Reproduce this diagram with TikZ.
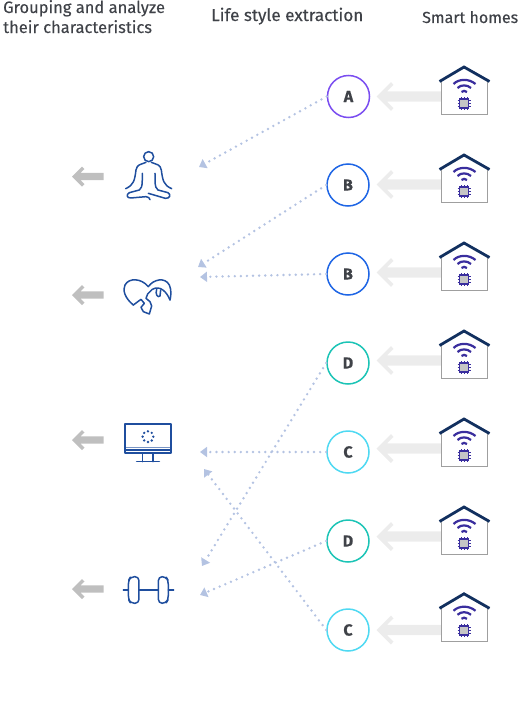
\documentclass[tikz,border=0pt]{standalone}
\usepackage{fontspec}
\setmainfont[FakeBold=0.25]{Fira Sans}
\usetikzlibrary{arrows.meta}
\definecolor{iconblue}{HTML}{1F4E9E}
\definecolor{roofnavy}{HTML}{12305F}
\definecolor{wifipurple}{HTML}{3A2E9E}
\definecolor{dotblue}{HTML}{B4C3E2}
\definecolor{textgray}{HTML}{3F4248}
\definecolor{circA}{HTML}{7A4DF0}
\definecolor{circB}{HTML}{1F66E5}
\definecolor{circD}{HTML}{1CC4B6}
\definecolor{circC}{HTML}{4FD9F2}
\tikzset{
    header/.style={font=\fontsize{16.5}{19}\selectfont,text=textgray,anchor=base west,inner sep=0pt,align=left},
    lifecirc/.style={circle,draw=#1,line width=1.5pt,fill=white,minimum size=42pt,inner sep=0pt,font=\fontsize{16}{16}\selectfont\bfseries,text=textgray},
    dotlink/.style={dotblue,line width=2.7pt,line cap=round,dash pattern=on 0pt off 6.1pt,-{Triangle[length=7pt,width=10pt]}},
    iconline/.style={iconblue,line width=1.5pt,line cap=round,line join=round},
}
\begin{document}
\begin{tikzpicture}[x=1pt,y=-1pt]
    \useasboundingbox (0,0) rectangle (531,712);
    % headers
    \node[header] (hgroup) at (3,13) {Grouping and analyze};
    \node[header] (hchar) at (3,33) {their characteristics};
    \node[header,font=\fontsize{17.1}{19}\selectfont] (hlife) at (211,21) {Life style extraction};
    \node[header,font=\fontsize{16}{19}\selectfont] (hsmart) at (422,23) {Smart homes};
    % big arrows
    \foreach \y in {96.5,184.5,272.5,360.5,448.5,536.5,630} {
        \fill[gray!15] (376.5,\y) -- (391,\y-14.5) -- (393.5,\y-11.5) -- (387,\y-5.2) -- (442,\y-5.2) -- (442,\y+5.2) -- (387,\y+5.2) -- (393.5,\y+11.5) -- (391,\y+14.5) -- cycle;
    }
    % houses
    \foreach \y in {96.5,184.5,272.5,360.5,448.5,536.5,623.3} {
        \draw[gray!75,line width=0.8pt,fill=white] (441.7,\y-16) -- (441.7,\y+18) -- (487.3,\y+18) -- (487.3,\y-16);
        \draw[roofnavy,line width=2.8pt] (439.5,\y-15) -- (464,\y-29.5) -- (489.5,\y-15);
        \draw[wifipurple,line width=2.2pt] (453.5,\y-12.5) .. controls (459,\y-18) and (469,\y-18) .. (475.5,\y-12.5);
        \draw[wifipurple,line width=2.2pt] (457.5,\y-8.5) .. controls (461,\y-12) and (467,\y-12) .. (471,\y-8.5);
        \draw[wifipurple,line width=2.2pt] (461.5,\y-4.5) .. controls (463,\y-6) and (465,\y-6) .. (467,\y-4.5);
        \foreach \p in {-3,0,3} {
            \draw[wifipurple,line width=0.6pt] (464+\p,\y+0.5) -- (464+\p,\y+13.5);
            \draw[wifipurple,line width=0.6pt] (457.5,\y+7+\p) -- (470.5,\y+7+\p);
        }
        \draw[wifipurple,line width=1.4pt,fill=gray!45] (459.5,\y+2.5) rectangle (468.5,\y+11.5);
    }
    % life style circles
    \node[lifecirc=circA] (lifeA) at (348.5,96.5) {A};
    \node[lifecirc=circB] (lifeBa) at (348,185) {B};
    \node[lifecirc=circB] (lifeBb) at (348,274) {B};
    \node[lifecirc=circD] (lifeDa) at (348,363) {D};
    \node[lifecirc=circC] (lifeCa) at (348,452) {C};
    \node[lifecirc=circD] (lifeDb) at (348,541) {D};
    \node[lifecirc=circC] (lifeCb) at (348,630) {C};
    % arrow ends at the groups
    \coordinate (endA) at (199,167);
    \coordinate (endBa) at (198,267);
    \coordinate (endBb) at (200,277);
    \coordinate (endDa) at (202,566);
    \coordinate (endCa) at (200,452);
    \coordinate (endDb) at (200,595);
    \coordinate (endCb) at (204,469);
    \draw[dotlink] (lifeA.west) -- (endA);
    \draw[dotlink] (lifeBa.west) -- (endBa);
    \draw[dotlink] (lifeBb.west) -- (endBb);
    \draw[dotlink] (lifeDa.west) -- (endDa);
    \draw[dotlink] (lifeCa.west) -- (endCa);
    \draw[dotlink] (lifeDb.west) -- (endDb);
    \draw[dotlink] (lifeCb.west) -- (endCb);
    % small arrows
    \foreach \y in {176.5,295,440,589} {
        \fill[gray!50] (72,\y) -- (82,\y-10) -- (84.5,\y-7.5) -- (80.5,\y-3.6) -- (103.5,\y-3.6) -- (103.5,\y+3.6) -- (80.5,\y+3.6) -- (84.5,\y+7.5) -- (82,\y+10) -- cycle;
    }
    % meditating person
    \begin{scope}[shift={(60,140)},x=0.3333pt,y=-0.3333pt,iconline]
        \draw (266,50) circle (15);
        \draw (258,67) .. controls (240,75) and (232,72) .. (228,90) .. controls (224,120) and (222,135) .. (197,146);
        \draw (274,67) .. controls (292,75) and (300,72) .. (304,90) .. controls (308,120) and (310,135) .. (335,146);
        \draw (247,100) .. controls (246,125) and (250,140) .. (238,150) -- (208,158) .. controls (198,164) and (200,174) .. (212,174) -- (258,170) .. controls (266,170) and (268,174) .. (270,179);
        \draw (285,100) .. controls (286,125) and (282,140) .. (294,150) -- (324,158) .. controls (334,164) and (330,176) .. (316,175) -- (265,160);
    \end{scope}
    % heart with dog
    \begin{scope}[shift={(115,270)},x=0.3333pt,y=-0.3333pt,iconline]
        \draw (55,105) .. controls (30,85) and (22,60) .. (30,45) .. controls (42,22) and (80,25) .. (100,50) .. controls (115,28) and (150,20) .. (163,45) .. controls (170,60) and (168,78) .. (165,90);
        \draw (55,105) -- (78,88) -- (88,100) -- (78,112) -- (85,125) -- (103,132) -- (110,108) -- (105,95) -- (93,85) -- (98,72) -- (112,58) .. controls (135,45) and (155,65) .. (165,90);
        \draw (125,58) .. controls (120,72) and (128,85) .. (135,78) -- (137,60);
    \end{scope}
    % monitor
    \begin{scope}[shift={(60,410)},x=0.3333pt,y=-0.3333pt]
        \draw[iconline,line width=1.8pt,line cap=butt] (195,42) rectangle (333,130);
        \draw[iconline,line width=1pt,opacity=0.6] (195,113) -- (333,113);
        \draw[iconline,line width=1.2pt] (195,120) -- (333,120);
        \draw[iconline] (248,130) -- (248,155);
        \draw[iconline] (279,130) -- (279,155);
        \draw[iconline] (230,155) -- (298,155);
        \foreach \a in {0,45,...,315} {
            \fill[iconblue] (264,80) ++(\a:16) circle (4);
        }
    \end{scope}
    % dumbbell
    \begin{scope}[shift={(60,410)},x=0.3333pt,y=-0.3333pt,iconline]
        \draw (190,540) -- (205,540);
        \draw (237,540) -- (295,540);
        \draw (325,540) -- (341,540);
        \draw[rounded corners=4pt] (237,500) -- (212,500) -- (205,512) -- (205,568) -- (212,580) -- (237,580) -- cycle;
        \draw[rounded corners=4pt] (295,500) -- (318,500) -- (325,512) -- (325,568) -- (318,580) -- (295,580) -- cycle;
    \end{scope}
\end{tikzpicture}
\end{document}
